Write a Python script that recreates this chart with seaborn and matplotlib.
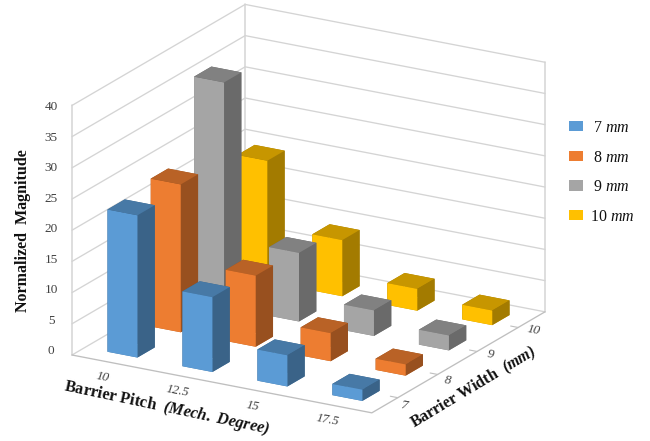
import matplotlib
matplotlib.use("Agg")
import matplotlib.pyplot as plt
import numpy as np
import seaborn as sns
from matplotlib.patches import Patch
from mpl_toolkits.mplot3d import proj3d

pitch_labels = ["10", "12.5", "15", "17.5"]
width_labels = ["7", "8", "9", "10"]
z_ticks = [0, 5, 10, 15, 20, 25, 30, 35, 40]

# Normalized magnitude per barrier pitch, one list per barrier width
width_7 = [22.8, 12.0, 5.0, 1.8]
width_8 = [23.7, 11.4, 4.5, 1.8]
width_9 = [36.0, 11.0, 4.1, 2.4]
width_10 = [19.4, 9.0, 3.5, 2.35]
series = [width_7, width_8, width_9, width_10]

base_colors = ["#5B9BD5", "#ED7D31", "#A5A5A5", "#FFC000"]
legend_labels = [r"$\;$7 $\mathit{mm}$", r"$\;$8 $\mathit{mm}$",
                 r"$\;$9 $\mathit{mm}$", r"10 $\mathit{mm}$"]

sns.set_theme(style="white")
plt.rcParams["font.family"] = ["Liberation Serif", "DejaVu Serif"]
plt.rcParams.update({
    "mathtext.fontset": "custom",
    "mathtext.rm": "Liberation Serif",
    "mathtext.it": "Liberation Serif:italic",
    "mathtext.bf": "Liberation Serif:bold",
    "mathtext.bfit": "Liberation Serif:italic:bold",
})
palette = sns.color_palette(base_colors)

FIG_W, FIG_H = 650, 441
fig = plt.figure(figsize=(FIG_W / 100, FIG_H / 100), dpi=100, facecolor="white")
ax = fig.add_axes([0, 0, 1, 1], projection="3d", proj_type="ortho")
ax.computed_zorder = False
ax.set_axis_off()
ax.view_init(elev=19.6, azim=-60.1)
ax.set_box_aspect((346, 347.5, 265))
ax.set_xlim(0, 4)
ax.set_ylim(0, 4)
ax.set_zlim(0, 40)

GRID = "#D4D4D4"
AXIS = "#BFBFBF"
TEXT = "#404040"
INK = "#111111"

# Horizontal rules on the left and back walls, plus the wall corners
for z in z_ticks:
    ax.plot([0, 0, 4], [0, 4, 4], [z, z, z], color=GRID, lw=0.95, zorder=1)
for x, y in [(0, 0), (0, 4), (4, 4)]:
    ax.plot([x, x], [y, y], [0, 40], color=GRID, lw=1.1, zorder=1)

# Floor edges and the ticks along the width axis
ax.plot([0, 4, 4], [0, 0, 4], [0, 0, 0], color=AXIS, lw=0.95, zorder=1)
for tick_y in [0.6, 1.52, 2.43, 3.38]:
    ax.plot([3.9, 4], [tick_y, tick_y], [0, 0], color=AXIS, lw=0.8, zorder=1)

# Bars are added back to front so nearer ones cover farther ones
order = 2
for j in range(3, -1, -1):
    front = palette[j]
    top = tuple(c * 0.78 for c in front)
    side = tuple(c * 0.64 for c in front)
    for i in range(4):
        ax.bar3d(i + 0.3, j + 0.3, 0, 0.4, 0.4, series[j][i],
                 color=[top, top, front, side, side, side],
                 shade=False, linewidth=0, zorder=order)
        order += 1


def to_display(x, y, z):
    ax.apply_aspect()
    px, py, _ = proj3d.proj_transform(x, y, z, ax.get_proj())
    return ax.transData.transform((px, py))


# Size and place the square axes so the floor spans the intended pixels
side = float(FIG_H)
left, bottom = (FIG_W - side) / 2, 0.0
for _ in range(3):
    ax.set_position([left / FIG_W, bottom / FIG_H, side / FIG_W, side / FIG_H])
    a = to_display(0, 0, 0)
    b = to_display(4, 4, 0)
    side *= 473.0 / (b[0] - a[0])
    ax.set_position([left / FIG_W, bottom / FIG_H, side / FIG_W, side / FIG_H])
    a = to_display(0, 0, 0)
    left += 72 - a[0]
    bottom += (FIG_H - 355) - a[1]
ax.set_position([left / FIG_W, bottom / FIG_H, side / FIG_W, side / FIG_H])


def label_at(x, y, z, s, **kwargs):
    # Tick labels sit at projected floor and wall positions
    dx, dy = to_display(x, y, z)
    fig.text(dx / FIG_W, dy / FIG_H, s, ha="center", va="center",
             color=TEXT, fontsize=9.5, **kwargs)


for v in z_ticks:
    label_at(-0.21, -0.12, 0.64 + 0.976 * v, str(v))
for i, lab in enumerate(pitch_labels):
    label_at(i + 0.69, -0.48, 0, lab, rotation=-10, style="italic")
for j, lab in enumerate(width_labels):
    label_at(4.2, j + 0.4, 0, lab, rotation=-10, style="italic")


# Axis titles
def title_at(px, py, s, rotation, size):
    fig.text(px / FIG_W, 1 - py / FIG_H, s, ha="center", va="center",
             rotation=rotation, rotation_mode="anchor", fontsize=size,
             fontweight="bold", color=INK)


title_at(23, 231, r"Normalized  Magnitude", 90, 11.5)
title_at(167, 408, r"Barrier Pitch  $\mathbfit{(Mech.\ Degree)}$", -12, 11.8)
title_at(474, 388, r"Barrier Width  $\mathbfit{(mm)}$", 31, 11.5)

handles = [Patch(facecolor=c, edgecolor="none") for c in palette]
fig.legend(handles, legend_labels, loc="upper left",
           bbox_to_anchor=(569 / FIG_W, 1 - 120 / FIG_H),
           frameon=False, fontsize=11.5, labelcolor=INK,
           handlelength=0.88, handleheight=0.6, handletextpad=0.44,
           labelspacing=0.85, borderpad=0, borderaxespad=0)

fig.savefig("out.png", dpi=100, facecolor="white")
